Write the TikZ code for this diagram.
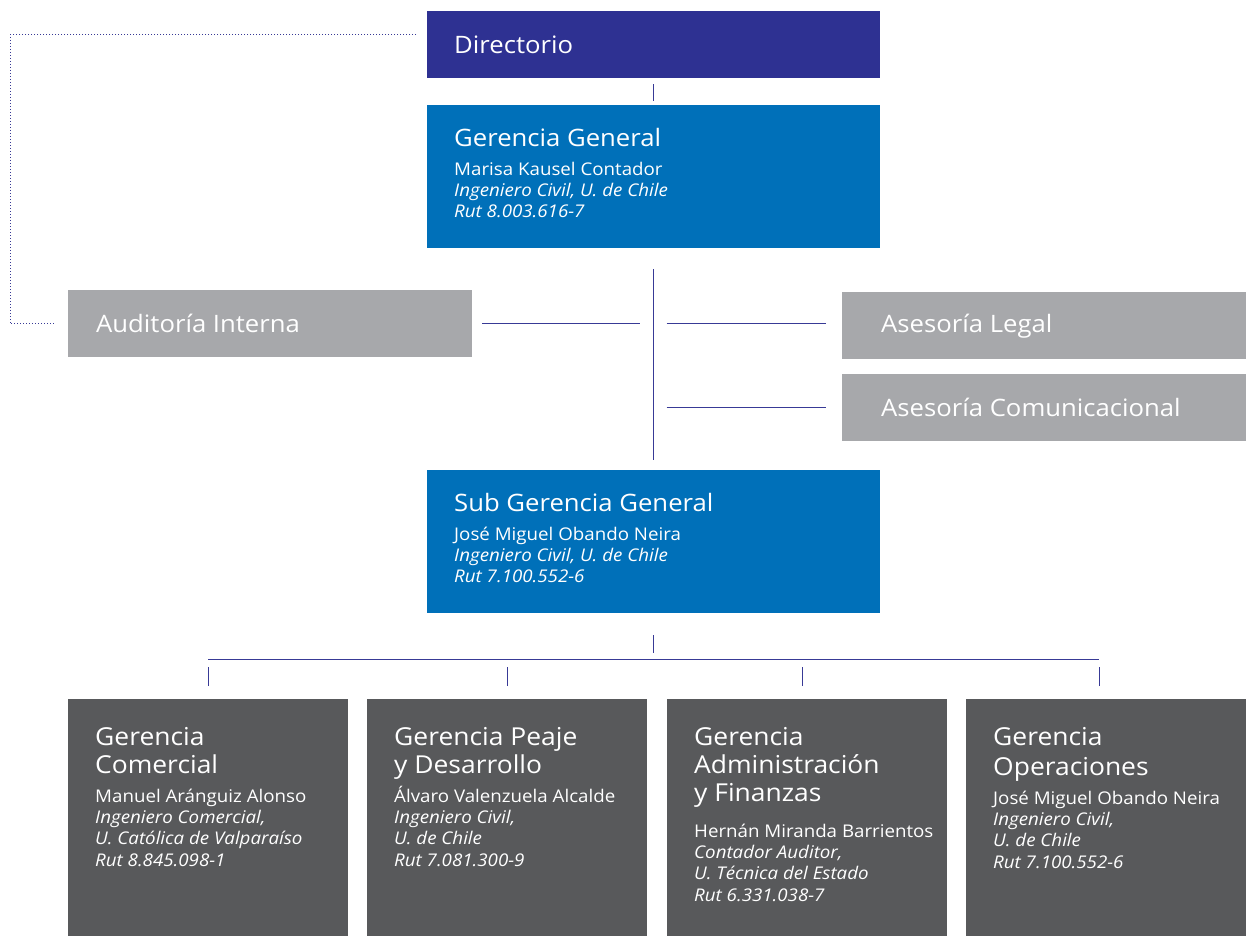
\documentclass[tikz,border=0pt]{standalone}
\usepackage{fontspec}
\setmainfont[FakeStretch=1.07]{Open Sans}
\usetikzlibrary{positioning}

\definecolor{dirblue}{RGB}{46,49,146}
\definecolor{gerblue}{RGB}{0,112,185}
\definecolor{asegray}{RGB}{167,168,171}
\definecolor{unitgray}{RGB}{88,89,91}
\definecolor{linkblue}{RGB}{56,58,150}

\newcommand{\headfont}{\fontsize{24}{28}\selectfont}
\newcommand{\unitfont}{\fontsize{24.7}{28}\selectfont}
\newcommand{\infofont}{\fontsize{17.5}{21.3}\selectfont}
\newcommand{\hstrut}{\rule{0pt}{26pt}}
\newcommand{\istrut}{\rule{0pt}{18pt}}

\begin{document}
\begin{tikzpicture}[x=1pt, y=-1pt,
        box/.style = {rectangle, inner sep=0, anchor=north west, minimum width=#1},
        dirbox/.style = {box=453pt, fill=dirblue, minimum height=67pt},
        gerbox/.style = {box=453pt, fill=gerblue, minimum height=143pt},
        asebox/.style = {box=404pt, fill=asegray, minimum height=67pt},
        unitbox/.style = {box=280pt, fill=unitgray, minimum height=237pt},
        heading/.style = {text=white, inner sep=0, anchor=north west, align=left, font=\headfont},
        unithead/.style = {heading, font=\unitfont},
        info/.style = {text=white, inner sep=0, anchor=north west, align=left, font=\infofont},
        link/.style = {draw=linkblue, line width=1.3pt},
        advisory/.style = {draw=linkblue, line width=1pt, dotted}
        ]

        \useasboundingbox (0,0) rectangle (1249,936);

        % boxes
        \node (dir) at (427,11)  [dirbox] {};
        \node (gg)  at (427,105) [gerbox] {};
        \node (aud) at (68,290)  [asebox] {};
        \node (leg) at (842,292) [asebox] {};
        \node (com) at (842,374) [asebox] {};
        \node (sgg) at (427,470) [gerbox] {};
        \node (gc)  at (68,699)  [unitbox] {};
        \node (gpd) at (367,699) [unitbox] {};
        \node (gaf) at (667,699) [unitbox] {};
        \node (gop) at (966,699) [unitbox] {};

        % texts
        \node (dirt) at ([xshift=27pt]dir.west) [heading, anchor=west] {Directorio};
        \node (audt) at ([xshift=28pt]aud.west) [heading, anchor=west] {Auditoría Interna};
        \node (legt) at ([xshift=39pt]leg.west) [heading, anchor=west] {Asesoría Legal};
        \node (comt) at ([xshift=39pt]com.west) [heading, anchor=west] {Asesoría Comunicacional};

        \node (ggt)  [heading, below right=15pt and 27pt of gg.north west] {\hstrut Gerencia General};
        \node (ggi)  [info, below right=52pt and 27pt of gg.north west]
            {\istrut Marisa Kausel Contador\\ \textit{Ingeniero Civil, U. de Chile}\\ \textit{Rut 8.003.616-7}};
        \node (sggt) [heading, below right=15pt and 27pt of sgg.north west] {\hstrut Sub Gerencia General};
        \node (sggi) [info, below right=52pt and 27pt of sgg.north west]
            {\istrut José Miguel Obando Neira\\ \textit{Ingeniero Civil, U. de Chile}\\ \textit{Rut 7.100.552-6}};

        \node (gct)  [unithead, below right=20pt and 27pt of gc.north west] {\hstrut Gerencia\\Comercial};
        \node (gci)  [info, below right=85pt and 27pt of gc.north west]
            {\istrut Manuel Aránguiz Alonso\\ \textit{Ingeniero Comercial,}\\ \textit{U. Católica de Valparaíso}\\ \textit{Rut 8.845.098-1}};
        \node (gpdt) [unithead, below right=20pt and 27pt of gpd.north west] {\hstrut Gerencia Peaje\\y Desarrollo};
        \node (gpdi) [info, below right=85pt and 27pt of gpd.north west]
            {\istrut Álvaro Valenzuela Alcalde\\ \textit{Ingeniero Civil,}\\ \textit{U. de Chile}\\ \textit{Rut 7.081.300-9}};
        \node (gaft) [unithead, below right=20pt and 27pt of gaf.north west] {\hstrut Gerencia\\Administración\\y Finanzas};
        \node (gafi) [info, below right=120pt and 27pt of gaf.north west]
            {\istrut Hernán Miranda Barrientos\\ \textit{Contador Auditor,}\\ \textit{U. Técnica del Estado}\\ \textit{Rut 6.331.038-7}};
        \node (gopt) [unithead, below right=20pt and 27pt of gop.north west] {\hstrut Gerencia\\[2pt]Operaciones};
        \node (gopi) [info, below right=87pt and 27pt of gop.north west]
            {\istrut José Miguel Obando Neira\\ \textit{Ingeniero Civil,}\\ \textit{U. de Chile}\\ \textit{Rut 7.100.552-6}};

        % connectors
        \draw[link] ([yshift=-6pt]dir.south) -- ([yshift=4pt]gg.north);
        \draw[advisory] ([xshift=-11pt,yshift=-24pt]dir.north west) -| ([xshift=-58pt]aud.west) -- ([xshift=-13pt]aud.west);

        \coordinate (spine) at ([yshift=-21pt]gg.south);
        \draw[link] (spine) -- ([yshift=10pt]sgg.north);
        \coordinate (audend) at (aud.east -| spine);
        \coordinate (legend) at (leg.west |- audend);
        \coordinate (comend) at (com.west -| spine);
        \draw[link] ([xshift=10pt]aud.east) -- ([xshift=-14pt]audend);
        \draw[link] ([xshift=13pt]audend) -- ([xshift=-16pt]legend);
        \draw[link] ([xshift=13pt]comend) -- ([xshift=-16pt]com.west);

        \coordinate (bus) at ([yshift=-46pt]sgg.south);
        \draw[link] ([yshift=-22pt]sgg.south) -- ([yshift=-40pt]sgg.south);
        \draw[link] (gc.north |- bus) -- ([xshift=-7pt]gop.north |- bus);
        \foreach \n/\dx in {gc/0, gpd/0, gaf/-5, gop/-7}
            \draw[link] ([xshift=\dx pt, yshift=13pt]\n.north) -- ([xshift=\dx pt, yshift=32pt]\n.north);
    \end{tikzpicture}
\end{document}
